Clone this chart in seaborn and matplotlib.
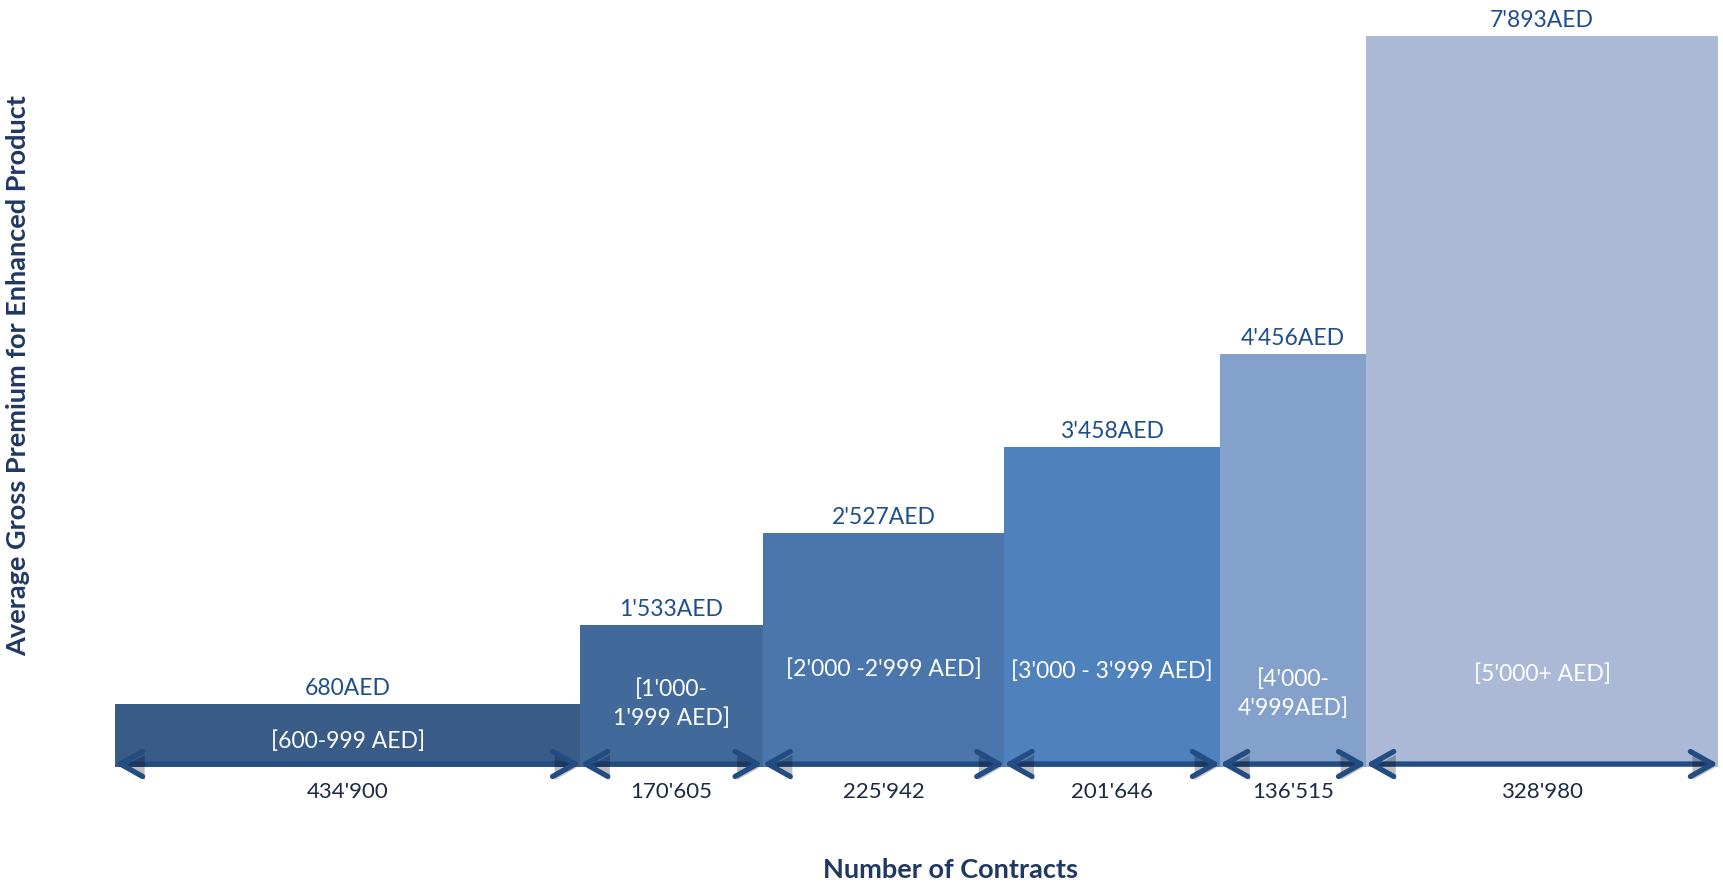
import numpy as np
import pandas as pd
import matplotlib
matplotlib.use("Agg")
import matplotlib.pyplot as plt
import matplotlib.patheffects as pe
import matplotlib.transforms as mtransforms
import seaborn as sns

# Premium bands, their average gross premium (AED) and number of contracts
bands = ["[600-999 AED]", "[1'000-\n1'999 AED]", "[2'000 -2'999 AED]",
         "[3'000 - 3'999 AED]", "[4'000-\n4'999AED]", "[5'000+ AED]"]
avg_premium = [680, 1533, 2527, 3458, 4456, 7893]
contracts = [434900, 170605, 225942, 201646, 136515, 328980]
bar_colors = ["#385B87", "#416999", "#4A76AB", "#4F81BD", "#84A1CB", "#ABB9D7"]

sns.set_theme(style="white")
plt.rcParams["font.family"] = ["Lato", "DejaVu Sans"]

def fmt(v):
    return f"{v:,}".replace(",", "'")

# Bar edges follow the cumulative number of contracts
edges = np.concatenate([[0], np.cumsum(contracts)])
mids = (edges[:-1] + edges[1:]) / 2
df = pd.DataFrame({"band": bands, "mid": mids, "premium": avg_premium})

fig = plt.figure(figsize=(17.23, 8.85), dpi=100)
ax = fig.add_axes([115 / 1723, 1 - 767 / 885, (1718 - 115) / 1723, (767 - 36) / 885])

sns.histplot(data=df, x="mid", weights="premium", bins=edges.tolist(), hue="band",
             hue_order=bands, palette=bar_colors, multiple="layer",
             alpha=1, linewidth=0, legend=False, ax=ax)

ax.set_xlim(edges[0], edges[-1])
ax.set_ylim(0, max(avg_premium))
ax.set_axis_off()

val_color = "#1F4E8C"
arrow_color = "#234C83"
count_color = "#1B2B45"
title_color = "#1F3864"

# Vertical placement (pixels above the baseline) of the band names inside bars
inner_px = [26, 63, 98, 96, 73, 93]

# arrows sit a few pixels above the baseline
arrow_trans = mtransforms.offset_copy(ax.transData, fig=fig, x=0, y=3, units="dots")

for i, band in enumerate(bands):
    x0, x1 = edges[i], edges[i + 1]
    xm = mids[i]
    h = avg_premium[i]
    # value above the bar
    ax.annotate(f"{fmt(h)}AED", xy=(xm, h), xytext=(0, 5),
                textcoords="offset pixels", ha="center", va="bottom",
                fontsize=16.5, color=val_color, annotation_clip=False)
    # band name inside the bar
    ax.annotate(band, xy=(xm, 0), xytext=(0, inner_px[i]),
                textcoords="offset pixels", ha="center", va="center",
                fontsize=16.5, color="white", linespacing=1.4,
                annotation_clip=False)
    # contract count below the bar
    ax.annotate(fmt(contracts[i]), xy=(xm, 0), xytext=(0, -25),
                textcoords="offset pixels", ha="center", va="center",
                fontsize=16, color=count_color, annotation_clip=False)
    # double-headed arrow spanning the bar width
    arr = ax.annotate("", xy=(x1, 0), xytext=(x0, 0),
                      xycoords=arrow_trans, textcoords=arrow_trans,
                      arrowprops=dict(arrowstyle="<->,head_length=1.6,head_width=0.9",
                                      color=arrow_color, lw=3.8, shrinkA=0, shrinkB=0,
                                      mutation_scale=10, capstyle="round",
                                      joinstyle="round"),
                      annotation_clip=False)
    arr.arrow_patch.set_path_effects([
        pe.SimplePatchShadow(offset=(1.5, -2.5), shadow_rgbFace="#000000", alpha=0.25),
        pe.Normal()])

fig.text(18 / 1723, 1 - 376 / 885, "Average Gross Premium for Enhanced Product",
         rotation=90, ha="center", va="center", fontsize=19.5, fontweight="bold",
         color=title_color)
fig.text(950 / 1723, 1 - 870 / 885, "Number of Contracts",
         ha="center", va="center", fontsize=19.5, fontweight="bold", color=title_color)

fig.savefig("out.png", dpi=100)
